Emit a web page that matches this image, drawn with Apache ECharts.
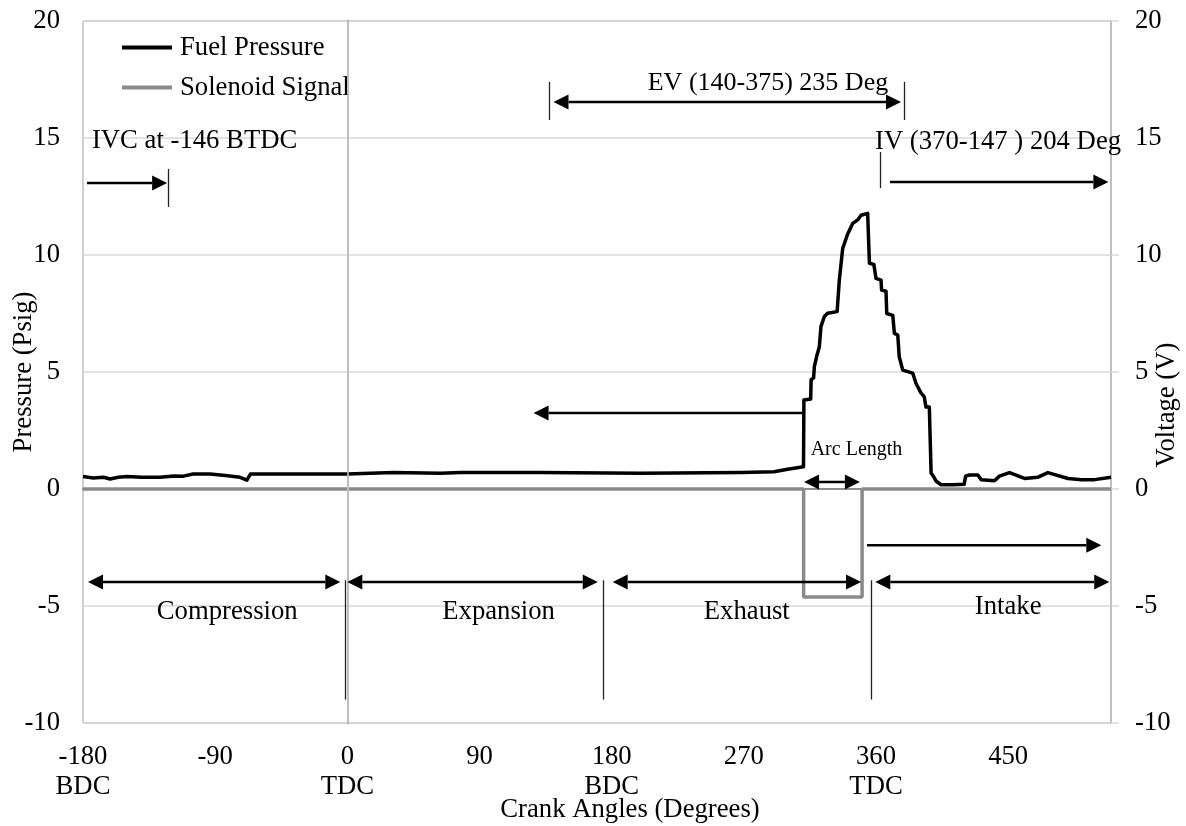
<!DOCTYPE html>
<html>
<head>
<meta charset="utf-8">
<script src="https://cdn.jsdelivr.net/npm/echarts@6/dist/echarts.min.js"></script>
<style>
  html, body { margin: 0; padding: 0; background: #fff; }
  #chart { width: 1186px; height: 826px; }
</style>
</head>
<body>
<div id="chart"></div>
<script>
// Crank angle axis ticks and the dead-centre names printed under them
const crankTicks = [-180, -90, 0, 90, 180, 270, 360, 450];
const deadCentre = { '-180': 'BDC', '0': 'TDC', '180': 'BDC', '360': 'TDC' };

// Fuel pressure trace (crank angle in degrees, pressure in psig)
const fuelPressure = [
  [-180, 0.53], [-173, 0.47], [-166, 0.5], [-161.6, 0.43], [-156, 0.5], [-150.2, 0.53],
  [-140, 0.5], [-127.5, 0.5], [-118, 0.56], [-111.6, 0.55], [-105, 0.64], [-93.4, 0.64],
  [-83, 0.58], [-73, 0.5], [-68.4, 0.38], [-66, 0.64], [-36.6, 0.64], [-0.2, 0.64],
  [31.4, 0.7], [63.4, 0.67], [77, 0.71], [131.6, 0.71], [199.8, 0.67], [268, 0.71],
  [290.5, 0.74], [299.8, 0.84], [310.6, 0.95],
  [310.9, 3.8], [315.5, 3.85], [315.8, 4.66], [317.5, 4.75], [318, 5.23], [319.5, 5.65],
  [321.4, 6.08], [322.5, 6.94], [324.8, 7.37], [327, 7.51], [333.5, 7.58], [335, 8.93],
  [337.3, 10.28], [340.7, 10.9], [344.1, 11.35], [347.5, 11.5], [349.8, 11.7],
  [354.3, 11.78], [355.4, 11.78], [355.5, 9.65], [358.5, 9.6], [360, 9.0], [363.4, 8.93],
  [363.8, 8.5], [366.8, 8.45], [367.3, 7.5], [371.4, 7.42], [372.5, 6.65], [374.8, 6.58],
  [375.8, 5.65], [378.2, 5.08], [385, 4.95], [387.3, 4.5], [390.7, 4.1], [392.8, 3.95],
  [394, 3.5], [396.3, 3.5], [397.5, 0.68], [399.5, 0.5], [401, 0.33], [404.3, 0.18],
  [412, 0.18], [420, 0.2], [421, 0.55], [423.6, 0.6], [429.3, 0.6], [431.6, 0.4],
  [440.7, 0.35], [444, 0.55], [450.9, 0.7], [461.1, 0.45], [470, 0.5], [477, 0.7],
  [490.7, 0.45], [500, 0.4], [508.9, 0.4], [520, 0.5]
];

// Injector solenoid drive signal (crank angle in degrees, volts)
const solenoidSignal = [
  [-180, 0], [310.7, 0], [310.7, -4.62], [350.5, -4.62], [350.5, 0], [520, 0]
];

// Stroke names, their spans and the angles where one stroke ends
const strokeNames = ['Compression', 'Expansion', 'Exhaust', 'Intake'];
const strokeSpans = [[-176.6, -4.8], [0, 170.5], [180.7, 349.8], [359.5, 518.8]];
const strokeArrowLevel = -3.97;
const strokeLabelX = [-81.8, 103, 272, 450];
const strokeLabelY = [-5.26, -5.26, -5.26, -5.05];
const strokeDividers = [-1.4, 174.5, 356.6];
const dividerRange = [-3.9, -9.0];

// Single and double headed arrows: [from, to, heads]
const arrows = [
  [[-177.3, 13.08], [-122.7, 13.08], 'end'],
  [[140.4, 16.54], [377, 16.54], 'both'],
  [[369.5, 13.12], [518.2, 13.12], 'end'],
  [[311, 3.25], [126.8, 3.25], 'end'],
  [[311, 0.3], [349, 0.3], 'both'],
  [[353.9, -2.4], [513.4, -2.4], 'end']
];

// Short vertical markers: [angle, top, bottom]
const markers = [
  [-122, 13.68, 12.05],
  [137.7, 17.4, 15.77],
  [379.1, 17.4, 15.77],
  [362.7, 14.4, 12.86]
];

// Valve timing notes: [text, angle, value, align, size]
const notes = [
  ['IVC at -146 BTDC', -173.9, 14.87, 'left', 26.7],
  ['EV (140-375) 235 Deg', 286.4, 17.35, 'center', 26],
  ['IV (370-147 ) 204 Deg', 359.3, 14.83, 'left', 26.7],
  ['Arc Length', 346.7, 1.67, 'center', 20]
];

const FONT = 'Liberation Serif';
const FS = 26.7;

const lineItems = [];
markers.forEach(([x, y0, y1]) => {
  lineItems.push([{ coord: [x, y0] }, { coord: [x, y1] }]);
});
strokeDividers.forEach((x) => {
  lineItems.push([{ coord: [x, dividerRange[0]] }, { coord: [x, dividerRange[1]] }]);
});

const textItems = notes.map(([t, x, y, align, size]) => ({
  coord: [x, y],
  label: { formatter: t, align: align, fontSize: size }
}));
strokeNames.forEach((t, i) => {
  textItems.push({
    coord: [strokeLabelX[i], strokeLabelY[i]],
    label: { formatter: t, align: 'center', fontSize: FS }
  });
});

const chart = echarts.init(document.getElementById('chart'), null, { renderer: 'canvas' });
chart.setOption({
  animation: false,
  backgroundColor: '#fff',
  textStyle: { fontFamily: FONT, color: '#000' },
  grid: {
    left: 83, right: 75, top: 21, bottom: 103,
    outerBoundsMode: 'none',
    show: true, borderColor: '#a0a0a0', borderWidth: 1
  },
  legend: {
    data: ['Fuel Pressure', 'Solenoid Signal'],
    orient: 'vertical',
    left: 117, top: 29,
    itemWidth: 50, itemHeight: 4, itemGap: 13,
    icon: 'rect',
    textStyle: { fontFamily: FONT, fontSize: FS, color: '#000', lineHeight: 27, padding: [0, 0, 0, 3] }
  },
  xAxis: {
    type: 'value',
    min: -180, max: 520, interval: 90,
    axisLine: { show: true, lineStyle: { color: '#8c8c8c', width: 2 } },
    axisTick: { show: false },
    splitLine: { show: false },
    axisLabel: {
      fontFamily: FONT, fontSize: FS, color: '#000', margin: 19, lineHeight: 30,
      formatter: (v) => {
        if (!crankTicks.includes(v)) return '';
        const dc = deadCentre[String(v)];
        return dc ? v + '\n' + dc : String(v);
      }
    },
    name: 'Crank Angles (Degrees)',
    nameLocation: 'middle',
    nameGap: 73,
    nameMoveOverlap: false,
    nameTextStyle: { fontFamily: FONT, fontSize: FS, color: '#000', padding: [0, 0, 0, 66] }
  },
  yAxis: [
    {
      type: 'value', position: 'left',
      min: -10, max: 20, interval: 5,
      axisLine: { show: true, lineStyle: { color: '#8c8c8c', width: 2 } },
      axisTick: { show: false },
      splitLine: { show: true, lineStyle: { color: '#d9d9d9', width: 1.5 } },
      axisLabel: { fontFamily: FONT, fontSize: FS, color: '#000', margin: 23 },
      name: 'Pressure (Psig)',
      nameLocation: 'middle', nameRotate: 90, nameGap: 46,
      nameMoveOverlap: false,
      nameTextStyle: { fontFamily: FONT, fontSize: FS, color: '#000' }
    },
    {
      type: 'value', position: 'right',
      min: -10, max: 20, interval: 5,
      axisLine: { show: true, lineStyle: { color: '#bfbfbf', width: 2 } },
      axisTick: { show: true, length: 8, lineStyle: { color: '#d9d9d9', width: 1.5 } },
      splitLine: { show: false },
      axisLabel: { fontFamily: FONT, fontSize: FS, color: '#000', margin: 24 },
      name: 'Voltage (V)',
      nameLocation: 'middle', nameRotate: 90, nameGap: 42,
      nameMoveOverlap: false,
      nameTextStyle: { fontFamily: FONT, fontSize: FS, color: '#000', padding: [0, 66, 0, 0] }
    }
  ],
  series: [
    {
      name: 'TDC gridline',
      type: 'line',
      data: [],
      z: 1,
      markLine: {
        silent: true, symbol: ['none', 'none'], animation: false,
        label: { show: false },
        lineStyle: { color: '#d0d0d0', width: 1.5, type: 'solid' },
        data: [{ xAxis: 0 }]
      }
    },
    {
      name: 'Solenoid Signal',
      type: 'line',
      yAxisIndex: 1,
      data: solenoidSignal,
      showSymbol: false,
      z: 3,
      itemStyle: { color: '#8a8a8a' },
      lineStyle: { color: '#8a8a8a', width: 3.5 }
    },
    {
      name: 'Fuel Pressure',
      type: 'line',
      data: fuelPressure,
      showSymbol: false,
      z: 4,
      itemStyle: { color: '#000' },
      lineStyle: { color: '#000', width: 3.5, join: 'round' }
    },
    {
      name: 'Annotations',
      type: 'line',
      data: [],
      z: 5,
      markLine: {
        silent: true,
        animation: false,
        symbol: ['none', 'none'],
        label: { show: false },
        lineStyle: { color: '#222', width: 1.3, type: 'solid' },
        data: lineItems
      },
      markPoint: {
        silent: true,
        animation: false,
        symbol: 'rect',
        symbolSize: 1,
        itemStyle: { color: 'rgba(0,0,0,0)' },
        label: {
          show: true, position: 'inside', verticalAlign: 'middle',
          fontFamily: FONT, color: '#000'
        },
        data: textItems
      }
    }
  ]
});

// Arrows are placed through the grid's own axis scales
const HEAD_LEN = 15, HEAD_HALF = 7.5;
function toPx(p) { return chart.convertToPixel({ xAxisIndex: 0, yAxisIndex: 0 }, p); }
function head(tip, from) {
  const dx = tip[0] - from[0], dy = tip[1] - from[1];
  const len = Math.hypot(dx, dy) || 1;
  const ux = dx / len, uy = dy / len;
  const bx = tip[0] - ux * HEAD_LEN, by = tip[1] - uy * HEAD_LEN;
  return {
    base: [bx, by],
    el: {
      type: 'polygon', silent: true, z: 100,
      shape: { points: [tip, [bx - uy * HEAD_HALF, by + ux * HEAD_HALF], [bx + uy * HEAD_HALF, by - ux * HEAD_HALF]] },
      style: { fill: '#000' }
    }
  };
}
const arrowGraphics = [];
function addArrow(a, b, both) {
  const p0 = toPx(a), p1 = toPx(b);
  const hEnd = head(p1, p0);
  arrowGraphics.push(hEnd.el);
  let s0 = p0;
  const s1 = hEnd.base;
  if (both) {
    const hStart = head(p0, p1);
    arrowGraphics.push(hStart.el);
    s0 = hStart.base;
  }
  arrowGraphics.push({
    type: 'line', silent: true, z: 99,
    shape: { x1: s0[0], y1: s0[1], x2: s1[0], y2: s1[1] },
    style: { stroke: '#000', lineWidth: 2.5 }
  });
}
arrows.forEach(([a, b, heads]) => addArrow(a, b, heads === 'both'));
strokeSpans.forEach(([a, b]) => addArrow([a, strokeArrowLevel], [b, strokeArrowLevel], true));
chart.setOption({ graphic: arrowGraphics });
</script>
</body>
</html>
